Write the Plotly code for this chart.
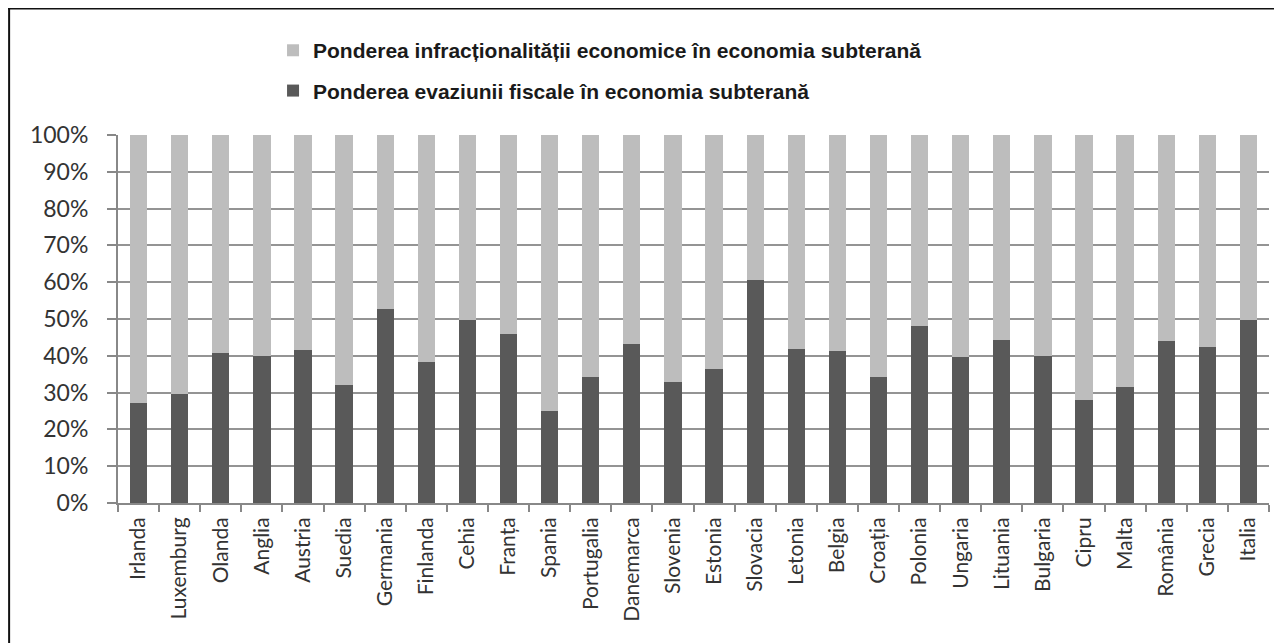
import plotly.graph_objects as go

countries = ["Irlanda", "Luxemburg", "Olanda", "Anglia", "Austria", "Suedia", "Germania",
             "Finlanda", "Cehia", "Franța", "Spania", "Portugalia", "Danemarca", "Slovenia",
             "Estonia", "Slovacia", "Letonia", "Belgia", "Croația", "Polonia", "Ungaria",
             "Lituania", "Bulgaria", "Cipru", "Malta", "România", "Grecia", "Italia"]

evaziune = [27.1, 29.6, 40.8, 40.0, 41.5, 32.0, 52.8, 38.3, 49.6, 45.9, 24.9, 34.2, 43.3, 32.9,
            36.4, 60.7, 41.9, 41.4, 34.2, 48.1, 39.8, 44.4, 39.9, 27.9, 31.5, 43.9, 42.4, 49.8]

infractionalitate = [round(100 - v, 1) for v in evaziune]

name_dark = "Ponderea evaziunii fiscale în economia subterană"
name_light = "Ponderea infracționalității economice în economia subterană"

fig = go.Figure()
fig.add_trace(go.Bar(x=countries, y=[v / 100 for v in evaziune], name=name_dark,
                     marker=dict(color="#595959", line=dict(width=0)),
                     legendgroup="a", legendrank=2))
fig.add_trace(go.Bar(x=countries, y=[v / 100 for v in infractionalitate], name=name_light,
                     marker=dict(color="#bdbdbd", line=dict(width=0)),
                     legendgroup="b", legendrank=1))

fig.update_layout(
    barmode="stack",
    bargap=0.58,
    width=1282, height=643,
    margin=dict(l=110, r=21, t=127, b=148, autoexpand=False),
    paper_bgcolor="white",
    plot_bgcolor="white",
    showlegend=True,
    legend=dict(
        x=0.1347, y=1.285, xanchor="left", yanchor="top",
        traceorder="grouped",
        tracegroupgap=10,
        font=dict(family="Liberation Sans, Arial, sans-serif", size=21, color="#1a1a1a",
                  weight="bold"),
        bgcolor="rgba(0,0,0,0)",
    ),
    xaxis=dict(
        type="category",
        tickangle=-90,
        tickson="boundaries",
        ticks="outside", ticklen=7, tickwidth=1.5, tickcolor="#888888",
        showgrid=False,
        showline=True, linecolor="#888888", linewidth=2,
        tickfont=dict(family="Lato, sans-serif", size=21, color="#333333"),
        ticklabelstandoff=4,
    ),
    yaxis=dict(
        range=[0, 1],
        tickvals=[i / 10 for i in range(11)],
        tickformat=".0%",
        ticks="outside", ticklen=9, tickwidth=1.5, tickcolor="#888888",
        showgrid=True, gridcolor="#949494", gridwidth=2,
        showline=True, linecolor="#888888", linewidth=2,
        zeroline=False,
        tickfont=dict(family="Lato, sans-serif", size=23, color="#333333"),
        ticklabelstandoff=14,
    ),
    shapes=[
        dict(type="line", xref="paper", yref="paper", x0=-0.12, x1=1.1, y0=1.345, y1=1.345,
             line=dict(color="#111111", width=3)),
        dict(type="line", xref="paper", yref="paper", x0=-0.0946, x1=-0.0946, y0=1.35, y1=-0.5,
             line=dict(color="#111111", width=2)),
    ],
)

fig.write_html("out.html")
